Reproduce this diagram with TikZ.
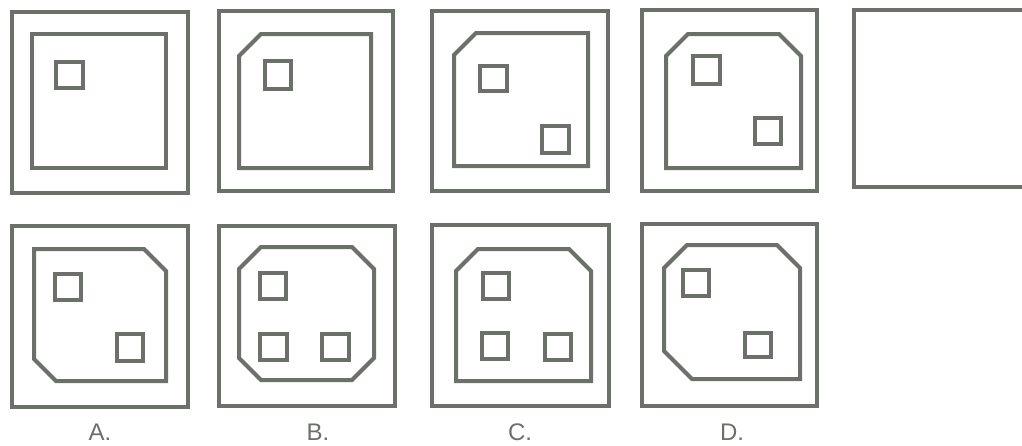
\documentclass[tikz,border=0pt]{standalone}
\usepackage{fontspec}
\setmainfont{Liberation Sans}
\definecolor{ink}{RGB}{108,112,106}
\begin{document}
\begin{tikzpicture}[x=1pt,y=-1pt,
  frame/.style={draw=ink,line width=4pt,line join=miter},
  lab/.style={text=ink,font=\fontsize{24}{24}\selectfont,anchor=base,inner sep=0pt}]
\useasboundingbox (0,0) rectangle (1022,445);
% ---- top row ----
% box 1
\draw[frame] (12,12) rectangle (188,193);
\draw[frame] (32,34) rectangle (166,168);
\draw[frame] (56,62) rectangle (83,88);
% box 2
\draw[frame] (219,11) rectangle (393,191);
\draw[frame] (239,56) -- (261,34) -- (371,34) -- (371,168) -- (239,168) -- cycle;
\draw[frame] (265,61) rectangle (291,89);
% box 3
\draw[frame] (432,11) rectangle (608,191);
\draw[frame] (454,55) -- (476,33) -- (588,33) -- (588,166) -- (454,166) -- cycle;
\draw[frame] (480,66) rectangle (507,91);
\draw[frame] (542,126) rectangle (569,153);
% box 4
\draw[frame] (642,10) rectangle (817,191);
\draw[frame] (666,56) -- (688,34) -- (779,34) -- (801,56) -- (801,168) -- (666,168) -- cycle;
\draw[frame] (693,56) rectangle (720,84);
\draw[frame] (755,118) rectangle (781,144);
% box 5
\draw[frame] (854,10) rectangle (1030,187);
% ---- bottom row ----
% A
\draw[frame] (12,226) rectangle (188,407);
\draw[frame] (34,249) -- (144,249) -- (166,271) -- (166,381) -- (56,381) -- (34,359) -- cycle;
\draw[frame] (55,274) rectangle (81,300);
\draw[frame] (117,334) rectangle (143,361);
% B
\draw[frame] (219,226) rectangle (395,406);
\draw[frame] (261,247) -- (352,247) -- (374,269) -- (374,358) -- (352,380) -- (261,380) -- (239,358) -- (239,269) -- cycle;
\draw[frame] (260,273) rectangle (286,299);
\draw[frame] (260,334) rectangle (287,360);
\draw[frame] (322,334) rectangle (349,360);
% C
\draw[frame] (432,225) rectangle (609,406);
\draw[frame] (456,271) -- (478,249) -- (569,249) -- (591,271) -- (591,381) -- (456,381) -- cycle;
\draw[frame] (483,273) rectangle (509,299);
\draw[frame] (482,333) rectangle (508,359);
\draw[frame] (545,334) rectangle (571,360);
% D
\draw[frame] (642,224) rectangle (817,406);
\draw[frame] (664,268) -- (687,245) -- (777,245) -- (800,268) -- (800,379) -- (692,379) -- (664,351) -- cycle;
\draw[frame] (683,270) rectangle (709,296);
\draw[frame] (745,333) rectangle (771,357);
% labels
\node[lab] (la) at (100,440) {A.};
\node[lab] (lb) at (318,440) {B.};
\node[lab] (lc) at (520,440) {C.};
\node[lab] (ld) at (732,440) {D.};
\end{tikzpicture}
\end{document}
